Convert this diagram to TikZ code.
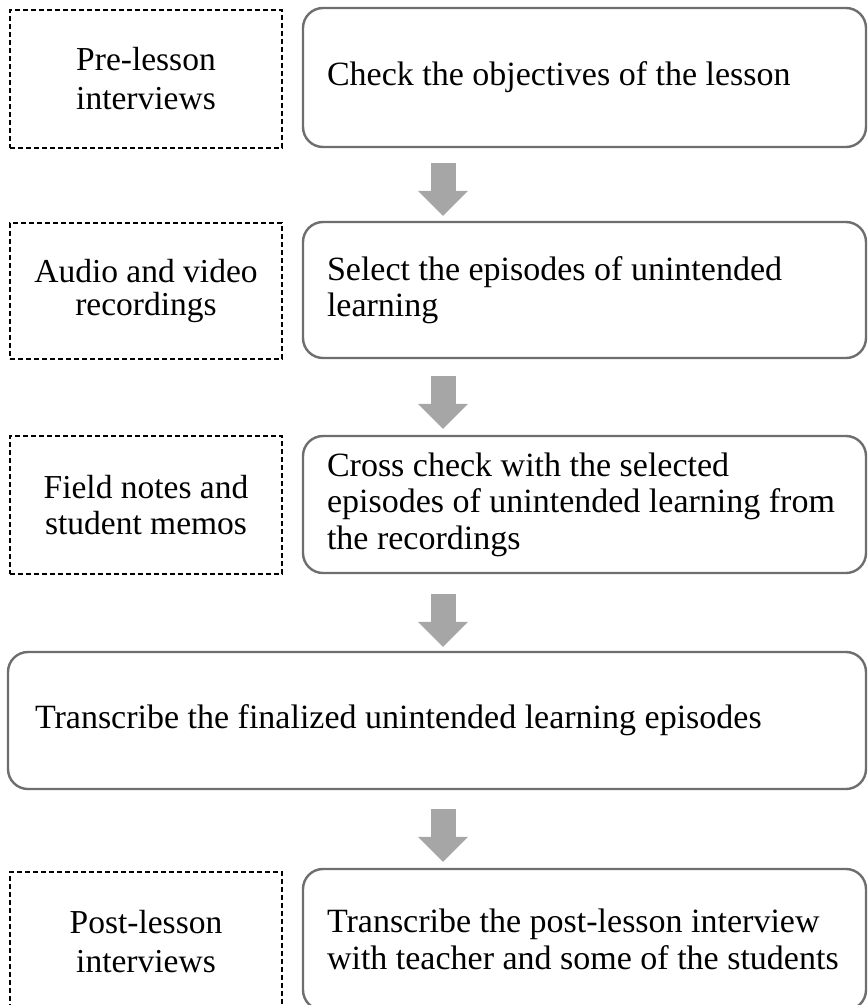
\documentclass[tikz,border=0pt]{standalone}
\usepackage{fontspec}
\setmainfont{Liberation Serif}
\usetikzlibrary{arrows.meta}

\definecolor{boxline}{HTML}{6E6E6E}
\definecolor{flowgray}{HTML}{A6A6A6}

\begin{document}
\begin{tikzpicture}[x=1pt, y=-1pt,
    source/.style={draw=black, line width=1.2pt, dash pattern=on 5pt off 3pt,
        minimum width=272pt, align=center, inner sep=0pt,
        font=\fontsize{33.5}{33}\selectfont,
        execute at begin node={\spaceskip=0.25em\relax}},
    stepbox/.style={draw=boxline, line width=2.4pt, rounded corners=20pt,
        minimum width=563pt, text width=551pt, align=left, inner sep=0pt,
        font=\fontsize{34}{36.5}\selectfont,
        execute at begin node={\spaceskip=0.25em\relax\leftskip=18pt\relax}},
    flow/.style={draw=flowgray, line width=25pt,
        -{Triangle[width=50pt, length=25pt, line width=0pt, fill=flowgray]}}]

    \clip (0,0) rectangle (868,1005);

    % === Data sources (left) ===
    \node[source, minimum height=138pt] (S1) at (146, 79) {Pre-lesson\\[6pt]interviews};
    \node[source, minimum height=136pt] (S2) at (146, 291) {Audio and video\\recordings};
    \node[source, minimum height=138pt] (S3) at (146, 505) {Field notes and\\[3pt]student memos};
    \node[source, minimum height=140pt] (S5) at (146, 942) {Post-lesson\\[6pt]interviews};

    % === Analysis steps (right) ===
    \node[stepbox, minimum height=139pt] (R1) at (584.5, 77.5) {Check the objectives of the lesson};
    \node[stepbox, minimum height=136pt] (R2) at (584.5, 290) {Select the episodes of unintended\\learning};
    \node[stepbox, minimum height=137pt] (R3) at (584.5, 504.5) {Cross check with the selected\\episodes of unintended learning from\\the recordings};
    \node[stepbox, minimum height=137pt, minimum width=858pt, text width=840pt] (R4) at (437, 720.5)
        {Transcribe the finalized unintended learning episodes};
    \node[stepbox, minimum height=141pt] (R5) at (584.5, 939.5) {Transcribe the post-lesson interview\\with teacher and some of the students};

    % Flow arrows
    \coordinate (ax) at (443, 0);
    \draw[flow, shorten <=15pt, shorten >=5pt] (R1.south -| ax) -- (R2.north -| ax);
    \draw[flow, shorten <=17pt, shorten >=6pt] (R2.south -| ax) -- (R3.north -| ax);
    \draw[flow, shorten <=20pt, shorten >=4pt] (R3.south -| ax) -- (R4.north -| ax);
    \draw[flow, shorten <=19pt, shorten >=6pt] (R4.south -| ax) -- (R5.north -| ax);

\end{tikzpicture}
\end{document}
